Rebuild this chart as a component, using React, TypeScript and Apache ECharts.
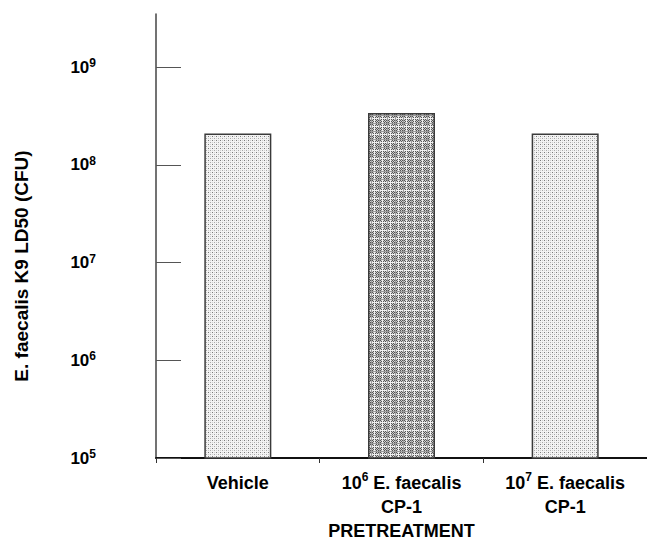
import { useEffect, useRef } from 'react';
import * as echarts from 'echarts';

// ---- data ----
const categories = ['Vehicle', '10^6 E. faecalis\nCP-1\nPRETREATMENT', '10^7 E. faecalis\nCP-1'];
const ld50Values = [2.1e8, 3.4e8, 2.1e8];
const yTickValues = [1e5, 1e6, 1e7, 1e8, 1e9];
const yAxisTitle = 'E. faecalis K9 LD50 (CFU)';
const barPatterns = ['dots', 'plaid', 'dots'];

const FONT = '"Liberation Sans", Arial, Helvetica, sans-serif';

function makePattern(kind: string): HTMLCanvasElement {
  const c = document.createElement('canvas');
  if (kind === 'dots') {
    c.width = 4;
    c.height = 4;
    const g = c.getContext('2d')!;
    g.fillStyle = '#f3f3f3';
    g.fillRect(0, 0, 4, 4);
    g.fillStyle = '#7a7a7a';
    g.fillRect(0, 0, 1, 1);
    g.fillStyle = '#a8a8a8';
    g.fillRect(2, 2, 1, 1);
    g.fillStyle = '#d0d0d0';
    g.fillRect(2, 0, 1, 1);
    g.fillRect(0, 2, 1, 1);
  } else {
    c.width = 8;
    c.height = 8;
    const g = c.getContext('2d')!;
    for (let y = 0; y < 8; y++) {
      for (let x = 0; x < 8; x++) {
        g.fillStyle = (x + y) % 2 === 0 ? '#555555' : '#cfcfcf';
        g.fillRect(x, y, 1, 1);
      }
    }
    g.fillStyle = '#f0f0f0';
    g.fillRect(0, 6, 8, 1);
    g.fillRect(6, 0, 1, 8);
    g.fillStyle = '#9a9a9a';
    g.fillRect(0, 3, 8, 1);
    g.fillRect(3, 0, 1, 8);
  }
  return c;
}

function xLabelFormatter(val: string): string {
  return val
    .split('\n')
    .map((line) => {
      const m = line.match(/^10\^(\d+)(.*)$/);
      if (m) return `{b|10}{s|${m[1]}}{b|${m[2]}}`;
      return `{b|${line}}`;
    })
    .join('\n');
}

function yLabelFormatter(v: number): string {
  const e = Math.round(Math.log10(v));
  if (Math.abs(Math.log10(v) - e) > 1e-6) return '';
  return `{b|10}{s|${e}}`;
}

export default function App() {
  const ref = useRef<HTMLDivElement>(null);
  useEffect(() => {
    if (!ref.current) return;
    const chart = echarts.init(ref.current, undefined, { renderer: 'svg' });
    const patterns: Record<string, HTMLCanvasElement> = {
      dots: makePattern('dots'),
      plaid: makePattern('plaid'),
    };
    chart.setOption({
      animation: false,
      backgroundColor: '#ffffff',
      grid: { left: 156, right: -9, top: 14, bottom: 78, containLabel: false },
      xAxis: {
        type: 'category',
        data: categories,
        axisLine: { show: true, lineStyle: { color: '#111', width: 2 } },
        axisTick: { show: true, length: 5, lineStyle: { color: '#333', width: 1 } },
        axisLabel: {
          interval: 0,
          margin: 13,
          verticalAlign: 'top',
          formatter: xLabelFormatter,
          rich: {
            b: { fontSize: 18, fontWeight: 'bold', fontFamily: FONT, color: '#000', lineHeight: 24 },
            s: { fontSize: 12, fontWeight: 'bold', fontFamily: FONT, color: '#000', lineHeight: 19, verticalAlign: 'top' },
          },
        },
        splitLine: { show: false },
      },
      yAxis: {
        type: 'log',
        logBase: 10,
        min: 1e5,
        max: 3.5e9,
        axisLine: { show: true, lineStyle: { color: '#444', width: 1.5 } },
        axisTick: { show: true, inside: true, length: 25, lineStyle: { color: '#555', width: 1 }, customValues: yTickValues },
        axisLabel: {
          margin: 60,
          customValues: yTickValues,
          formatter: yLabelFormatter,
          rich: {
            b: { fontSize: 17, fontWeight: 'bold', fontFamily: FONT, color: '#000', lineHeight: 20 },
            s: { fontSize: 12, fontWeight: 'bold', fontFamily: FONT, color: '#000', lineHeight: 17, verticalAlign: 'top' },
          },
        },
        splitLine: { show: false },
        minorTick: { show: false },
      },
      graphic: [
        {
          type: 'text',
          x: 21,
          y: 266,
          rotation: Math.PI / 2,
          style: {
            text: yAxisTitle,
            fontSize: 19,
            fontWeight: 'bold',
            fontFamily: FONT,
            fill: '#000',
            align: 'center',
            verticalAlign: 'middle',
          },
        },
      ],
      series: [
        {
          type: 'bar',
          barWidth: 67,
          data: ld50Values.map((v, i) => ({
            value: v,
            itemStyle: {
              color: { image: patterns[barPatterns[i]], repeat: 'repeat' },
              borderColor: '#3a3a3a',
              borderWidth: 1.5,
            },
          })),
        },
      ],
    });
    return () => chart.dispose();
  }, []);
  return <div ref={ref} style={{ position: 'fixed', left: 0, top: 0, width: 647, height: 540 }} />;
}
